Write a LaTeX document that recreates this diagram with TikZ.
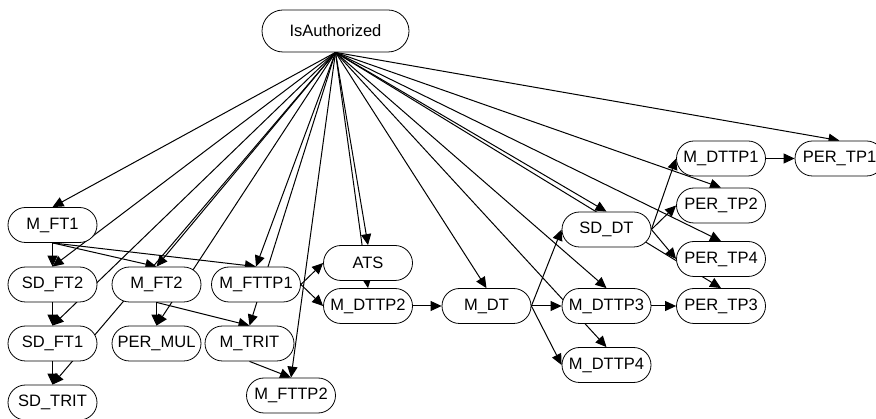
\documentclass[tikz,border=0pt]{standalone}
\usepackage{fontspec}
\setsansfont{Liberation Sans}
\usetikzlibrary{shapes.misc,arrows.meta,backgrounds}

\begin{document}
\begin{tikzpicture}[font={\sffamily\fontsize{16.5}{19}\selectfont},x=1pt,y=-1pt,
  box/.style={draw,rounded rectangle,fill=white,line width=0.8pt,inner sep=0pt,
    minimum width=89pt,minimum height=35pt},
  link/.style={-{Triangle[length=11pt,width=10pt]},line width=1pt}]
\useasboundingbox (0,0) rectangle (876,419);
\clip (0,0) rectangle (876,419);

\node[box,minimum width=147pt,minimum height=42pt] (auth) at (335.5,31) {IsAuthorized};

\node[box] (mft1)   at (52.5,225)   {M\_FT1};
\node[box] (sdft2)  at (52.5,284.5) {SD\_FT2};
\node[box] (sdft1)  at (52.5,343.5) {SD\_FT1};
\node[box] (sdtrit) at (52.5,402.5) {SD\_TRIT};
\node[box] (mft2)   at (156.5,284.5) {M\_FT2};
\node[box] (permul) at (156.5,343.5) {PER\_MUL};
\node[box] (mfttp1) at (256,284.5)  {M\_FTTP1};
\node[box] (mtrit)  at (249.5,343.5) {M\_TRIT};
\node[box] (mfttp2) at (291,395.5)  {M\_FTTP2};

\node[box] (ats)    at (368,263)    {ATS};
\node[box] (mdttp2) at (368,306)    {M\_DTTP2};
\node[box] (mdt)    at (486.5,306)  {M\_DT};
\node[box] (mdttp3) at (606.5,306)  {M\_DTTP3};
\node[box] (mdttp4) at (606.5,365)  {M\_DTTP4};
\node[box] (sddt)   at (606.5,229.5) {SD\_DT};

\node[box] (mdttp1) at (721,158.5)  {M\_DTTP1};
\node[box] (pertp1) at (839.5,158.5) {PER\_TP1};
\node[box] (pertp2) at (721,205.5)  {PER\_TP2};
\node[box] (pertp4) at (721,259)    {PER\_TP4};
\node[box] (pertp3) at (721,306)    {PER\_TP3};

\begin{scope}[on background layer]
  \foreach \t in {mft1,sdft2,sdft1,sdtrit,mft2,permul,mfttp1,mtrit,mfttp2,ats,
                  mdttp2,mdt,mdttp4,mdttp3,sddt,pertp3,pertp4,pertp2,pertp1}
    \draw[link] (auth.south) -- (\t.north);

  \foreach \t in {sdft2,mft2,mfttp1}
    \draw[link] (mft1.south) -- (\t.north);
  \draw[link] (sdft2.south) -- (sdft1.north);
  \draw[link] (sdft1.south) -- (sdtrit.north);
  \draw[link] (mft2.south) -- (permul.north);
  \draw[link] (mft2.south) -- (mtrit.north);
  \draw[link] (mtrit.south) -- (mfttp2.north);
  \draw[link] (mfttp1.east) -- (ats.west);
  \draw[link] (mfttp1.east) -- (mdttp2.west);
  \draw[link] (mdttp2.east) -- (mdt.west);

  \foreach \t in {sddt,mdttp3,mdttp4}
    \draw[link] (mdt.east) -- (\t.west);
  \draw[link] (mdttp3.east) -- (pertp3.west);
  \foreach \t in {mdttp1,pertp2,pertp4}
    \draw[link] (sddt.east) -- (\t.west);
  \draw[link] (mdttp1.east) -- (pertp1.west);
\end{scope}

\end{tikzpicture}
\end{document}
